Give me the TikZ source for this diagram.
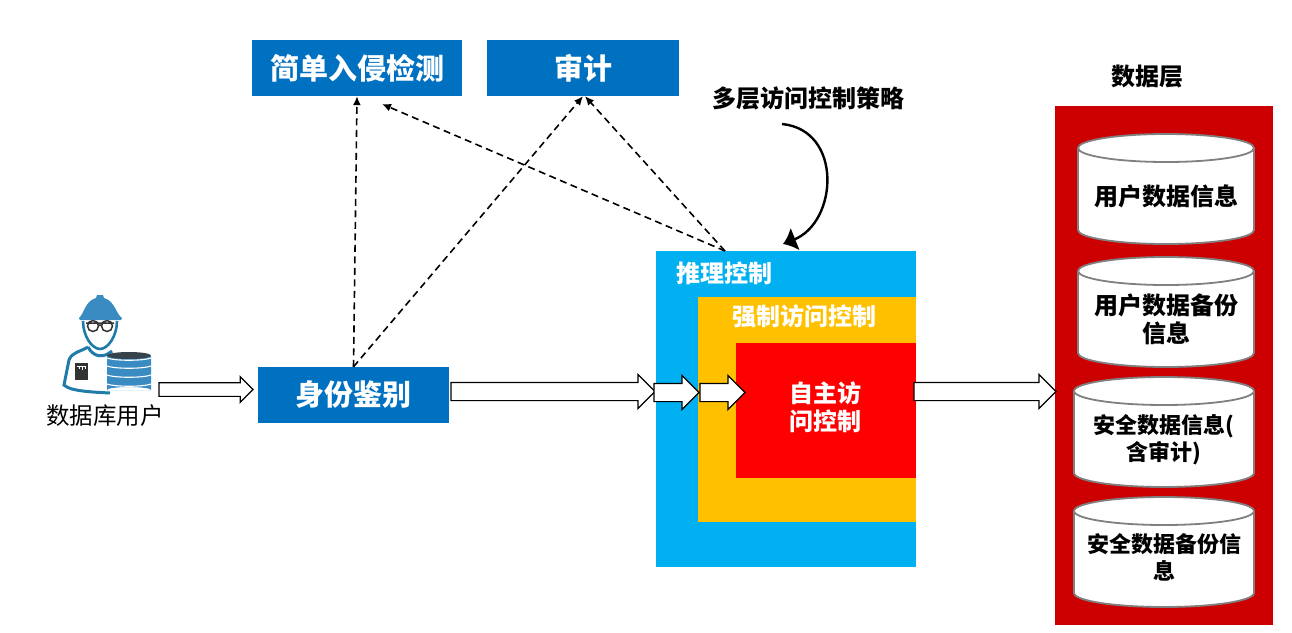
\documentclass[tikz,border=0pt]{standalone}
\usepackage{fontspec}
\setmainfont{Noto Sans CJK SC}
\usetikzlibrary{shapes.geometric,shapes.arrows,arrows.meta}

\tikzset{
  bluebox/.style={fill=boxblue, text=white, font=\fontsize{29}{34}\selectfont\bfseries, inner sep=0pt},
  layerlabel/.style={text=white, font=\fontsize{24}{28}\selectfont\bfseries, inner sep=0pt, align=center},
  blacklabel/.style={text=black, font=\fontsize{24}{28}\selectfont\bfseries, inner sep=0pt, align=center},
  smalllabel/.style={blacklabel, font=\fontsize{22}{27}\selectfont\bfseries},
  dbnode/.style={cylinder, shape border rotate=90, aspect=0.2, draw=dbgray, line width=1.8pt, fill=white,
    minimum width=176pt, minimum height=110pt, inner sep=0pt, anchor=shape center},
  blockarrow/.style={single arrow, draw=black, line width=1.2pt, fill=white, inner xsep=0pt, inner ysep=8.5pt, outer sep=0pt,
    single arrow head extend=8pt, single arrow tip angle=90, anchor=west},
  dasharrow/.style={-{Latex[length=9pt,width=8pt]}, dashed, dash pattern=on 7pt off 4.5pt, line width=1.6pt},
}
\definecolor{boxblue}{HTML}{0070C0}
\definecolor{infercyan}{HTML}{00B0F0}
\definecolor{forceyellow}{HTML}{FFC000}
\definecolor{darkred}{HTML}{CC0000}
\definecolor{dbgray}{HTML}{808080}
\definecolor{iconblue}{HTML}{3A8BC2}
\definecolor{iconedge}{HTML}{1F7BA8}
\definecolor{icondark}{HTML}{37424A}

\begin{document}
\begin{tikzpicture}[x=1pt,y=-1pt]
  \useasboundingbox (0,0) rectangle (1292,632);

  % nested access control layers
  \fill[infercyan] (656,251) rectangle (916,567);
  \fill[forceyellow] (698,297) rectangle (916,522);
  \fill[red] (736,343) rectangle (916,478);
  \fill[darkred] (1055,106) rectangle (1273,625);

  \node[bluebox, minimum width=210pt, minimum height=56pt] (ids) at (357,68) {简单入侵检测};
  \node[bluebox, minimum width=192pt, minimum height=56pt] (audit) at (583,68) {审计};
  \node[bluebox, minimum width=191pt, minimum height=56pt] (auth) at (353.5,395) {身份鉴别};

  \coordinate (infer) at (725,251);
  \coordinate (idsin) at (382,104);

  \draw[dasharrow] (auth.north) -- (ids.south);
  \draw[dasharrow] (auth.north) -- (audit.south);
  \draw[dasharrow] (infer) -- (idsin);
  \draw[dasharrow] (infer) -- ([xshift=2pt]audit.south);

  \node[blacklabel] (policy) at (808,98) {多层访问控制策略};
  \coordinate (bendstart) at (782,124);
  \coordinate (bendend) at (783,244);
  \draw[-{Latex[length=13pt,width=25pt]}, line width=2.4pt, black] (bendstart) .. controls (843,130) and (838,222) .. (bendend);

  \node[layerlabel] (inferlabel) at (724,273) {推理控制};
  \node[layerlabel] (forcelabel) at (804,316) {强制访问控制};
  \node[layerlabel] (selflabel) at (825,407) {自主访\\问控制};

  \node[blacklabel] (datalabel) at (1147,77) {数据层};
  \node[dbnode] (db1) at (1166,189) {\rule{140pt}{0pt}};
  \node[dbnode] (db2) at (1166,312) {\rule{140pt}{0pt}};
  \node[dbnode, minimum width=180pt] (db3) at (1164,432) {\rule{140pt}{0pt}};
  \node[dbnode, minimum width=180pt] (db4) at (1164,552) {\rule{140pt}{0pt}};
  \node[blacklabel] (db1label) at (1166,196) {用户数据信息};
  \node[blacklabel] (db2label) at (1166,319) {用户数据备份\\信息};
  \node[smalllabel] (db3label) at (1164,440) {安全数据信息(\\含审计)};
  \node[smalllabel] (db4label) at (1164,557) {安全数据备份信\\息};

  % block arrows
  \node[blockarrow, inner ysep=6.25pt, minimum height=94pt, single arrow head extend=6pt] (arrowa) at (159,389.5) {};
  \node[blockarrow, minimum height=204pt] (arrowb) at (451,391.5) {};
  \node[blockarrow, minimum height=45pt] (arrowc) at (654,392.5) {};
  \node[blockarrow, minimum height=45pt] (arrowd) at (700,392.5) {};
  \node[blockarrow, minimum height=142pt] (arrowe) at (914,391.5) {};

  % user icon
  \fill[iconblue] (79,318) .. controls (84,314) and (85,301) .. (96,298) -- (97,295) -- (103,295) -- (104,298)
    .. controls (115,301) and (116,314) .. (122,318) -- (121,320) -- (80,320) -- cycle;
  \draw[iconedge, line width=2.6pt] (83,321) .. controls (83,336) and (92,349) .. (100,349) .. controls (108,349) and (117,336) .. (117,321);
  \draw[black!80, line width=1.5pt] (93,326) circle (5.5) (107,326) circle (5.5) (98,325) -- (102,325) (86,323) -- (114,323);
  \draw[iconedge, line width=3pt] (88,347) .. controls (80,352) and (72,352) .. (69,360) -- (64,385) .. controls (70,391) and (90,392) .. (110,393);
  \draw[iconedge, line width=3pt] (88,347) .. controls (94,358) and (104,358) .. (112,351);
  \fill[black!80] (75,363) rectangle (88,380);
  \draw[white, line width=.8pt] (77,366) -- (86,366) (79,366) -- (79,369) (82,366) -- (82,370) (85,366) -- (85,369);
  \fill[iconblue] (107,356) rectangle (151,390) (107,390) arc[x radius=22, y radius=3, start angle=180, end angle=360];
  \fill[icondark] (129,355.5) ellipse [x radius=22, y radius=3.5];
  \foreach \bandy in {358,366,375,384}
    \draw[white, line width=1.1pt] (107,\bandy) .. controls (115,\bandy+3) and (143,\bandy+3) .. (151,\bandy);
  \node[inner sep=0pt, font=\fontsize{23.5}{28}\selectfont] (userlabel) at (105,416) {数据库用户};
\end{tikzpicture}
\end{document}
